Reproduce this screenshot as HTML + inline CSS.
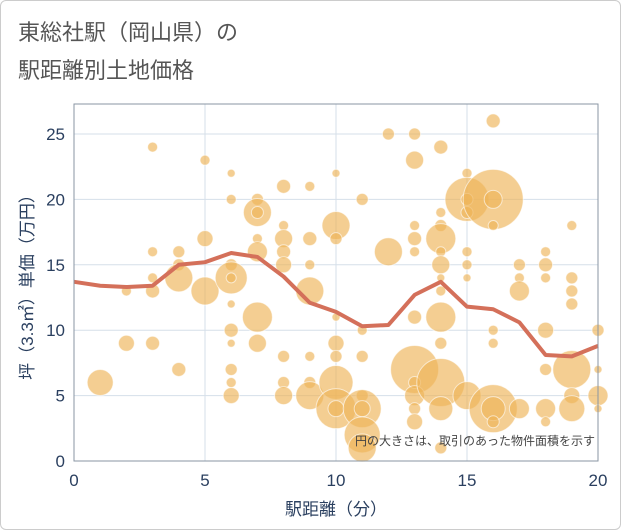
<!DOCTYPE html>
<html><head><meta charset="utf-8"><style>
body{margin:0;background:#fff;font-family:"Liberation Sans","Noto Sans CJK JP",sans-serif}
#wrap{position:relative;width:619px;height:528px;border:1px solid #ccc;border-radius:6px;overflow:hidden}
</style></head><body>
<div id="wrap">
<svg id="chart" width="621" height="530">
<text x="17" y="39" font-size="22" fill="#555">東総社駅（岡山県）の</text>
<text x="17" y="77" font-size="22" fill="#555">駅距離別土地価格</text>
<g id="grid"></g><g id="bubbles"></g><g id="line"></g><g id="axes"></g>
<text x="335" y="514" font-size="17" fill="#2a3f5f" text-anchor="middle">駅距離（分）</text>
<text transform="translate(32,282) rotate(-90)" font-size="17" fill="#2a3f5f" text-anchor="middle">坪（3.3㎡）単価（万円）</text>
<text x="594" y="444" font-size="12" fill="#444" text-anchor="end">円の大きさは、取引のあった物件面積を示す</text>
</svg></div>
<script>
const xTicks=[0,5,10,15,20];
const yTicks=[0,5,10,15,20,25];
const lineX=[0,1,2,3,4,5,6,7,8,9,10,11,12,13,14,15,16,17,18,19,20];
const lineY=[13.7,13.4,13.3,13.4,15.0,15.2,15.9,15.6,14.1,12.1,11.4,10.3,10.4,12.7,13.7,11.8,11.6,10.6,8.1,8.0,8.8];
const bubX=[1,2,2,3,3,3,3,3,4,4,4,4,5,5,5,6,6,6,6,6,6,6,6,6,6,6,7,7,7,7,7,7,7,8,8,8,8,8,8,8,8,9,9,9,9,9,9,9,10,10,10,10,10,10,10,10,10,11,11,11,11,11,11,11,11,12,12,13,13,13,13,13,13,13,13,13,13,13,14,14,14,14,14,14,14,14,14,14,14,14,14,15,15,15,15,15,15,15,15,16,16,16,16,16,16,16,16,16,17,17,17,17,18,18,18,18,18,18,18,19,19,19,19,19,19,19,20,20,20,20];
const bubY=[6,9,13,24,16,14,13,9,16,15,14,7,23,17,13,22,20,15,14,14,12,10,9,7,6,5,20,19,19,17,16,11,9,21,18,17,16,15,8,6,5,21,17,15,13,8,6,5,22,18,17,11,9,8,6,4,4,20,10,8,5,4,4,2,1,25,16,25,23,18,17,16,11,7,6,5,4,3,24,19,18,17,16,15,14,13,11,9,6,4,1,22,20,20,19,16,15,14,5,26,20,20,18,10,9,4,4,3,15,14,13,4,16,15,14,10,7,4,3,18,14,13,12,7,5,4,10,7,5,4];
const bubS=[13,8,5,5,5,5,7,7,6,6,14,7,5,8,14,4,5,6,16,5,4,7,4,6,5,8,6,14,6,5,10,15,9,7,5,9,7,8,6,6,9,5,7,5,14,5,6,14,4,14,6,4,8,6,17,20,8,6,5,6,6,19,8,18,14,6,14,6,9,5,7,5,7,24,6,10,6,8,7,5,6,15,5,9,4,5,15,6,24,12,6,5,22,6,6,5,5,4,14,7,30,9,5,5,5,24,12,6,6,5,10,10,5,7,5,8,6,10,5,5,6,6,6,19,8,13,6,4,10,4];
const L=73,R=597,T=103,B=460;
const xs=v=>L+(v/20)*(R-L);
const ys=v=>B-(v/25)*(B-133);
const NS='http://www.w3.org/2000/svg';
function mk(t,a,p){const e=document.createElementNS(NS,t);for(const k in a)e.setAttribute(k,a[k]);p.appendChild(e);return e;}
const g=document.getElementById('grid');
xTicks.forEach(t=>{
const l=mk('line',{x1:xs(t),x2:xs(t),y1:T,y2:B,stroke:'#d5dfe9','stroke-width':1},g);


const tx=mk('text',{x:xs(t),y:B+25,'font-size':17,fill:'#2a3f5f','text-anchor':'middle'},g);tx.textContent=t;


});
yTicks.forEach(t=>{
const l=mk('line',{x1:L,x2:R,y1:ys(t),y2:ys(t),stroke:'#d5dfe9','stroke-width':1},g);


const tx=mk('text',{x:L-9,y:ys(t)+6,'font-size':17,fill:'#2a3f5f','text-anchor':'end'},g);tx.textContent=t;


});
const bg=document.getElementById('bubbles');
bubX.forEach((x,i)=>{
const c=mk('circle',{cx:xs(x),cy:ys(bubY[i]),r:bubS[i],fill:'#eeb458','fill-opacity':0.65,stroke:'#fff','stroke-opacity':0.6,'stroke-width':1},bg);


});
const pts=lineX.map((x,i)=>xs(x)+','+ys(lineY[i])).join(' ');
const pl=mk('polyline',{points:pts,fill:'none',stroke:'#d4705a','stroke-width':4,'stroke-linejoin':'round'},document.getElementById('line'));


const ax=document.getElementById('axes');
const r=mk('rect',{x:L,y:T,width:R-L,height:B-T,fill:'none',stroke:'#8a96a3','stroke-width':1},ax);


</script>
</body></html>
